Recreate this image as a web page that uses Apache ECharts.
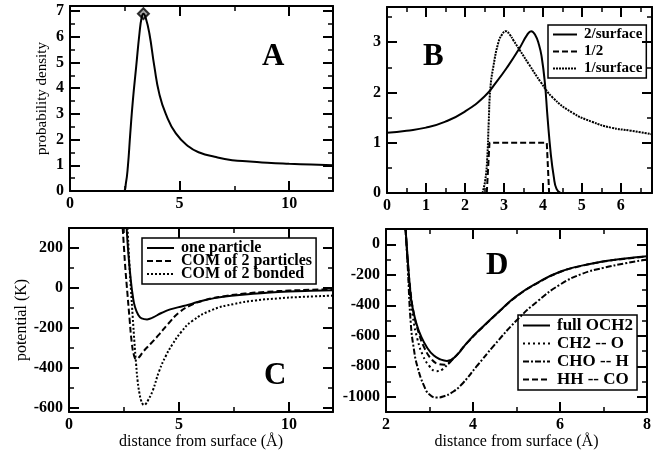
<!DOCTYPE html>
<html>
<head>
<meta charset="utf-8">
<script src="https://cdn.jsdelivr.net/npm/echarts@6/dist/echarts.min.js"></script>
<style>
  html, body { margin: 0; padding: 0; background: #fff; }
  #main { width: 664px; height: 459px; }
</style>
</head>
<body>
<div id="main"></div>
<script>
// panel A: probability density
const aX = [0, 2.45, 2.55, 2.64, 2.75, 2.87, 3.02, 3.17, 3.27, 3.35, 3.45, 3.62, 3.85, 4.07, 4.37, 4.83, 5.43, 5.9, 6.6, 7.4, 8.2, 9, 10, 11, 12]
const aY = [0, 0, 0.3, 0.95, 2.24, 3.54, 4.84, 6.14, 6.75, 6.9, 6.75, 6.14, 4.84, 3.8, 3.0, 2.24, 1.72, 1.5, 1.33, 1.2, 1.15, 1.1, 1.06, 1.03, 1.0]
const aPeak = [3.35, 6.9]

// panel B
const b2X = [0, 0.5, 1, 1.5, 2, 2.5, 2.8, 3.1, 3.4, 3.6, 3.7, 3.8, 3.9, 3.97, 4.05, 4.12, 4.2, 4.28, 4.35, 4.45]
const b2Y = [1.2, 1.24, 1.3, 1.42, 1.62, 1.92, 2.2, 2.52, 2.88, 3.15, 3.22, 3.15, 2.95, 2.7, 2.2, 1.5, 0.8, 0.32, 0.08, 0]
const b1X = [2.45, 2.52, 2.57, 2.61, 2.65, 2.73, 2.86, 2.95, 3.05, 3.15, 3.25, 3.4, 3.65, 3.95, 4.25, 4.75, 5.25, 5.75, 6.25, 6.8]
const b1Y = [0, 0.25, 0.66, 1.4, 2.06, 2.52, 3.0, 3.15, 3.22, 3.15, 3.03, 2.85, 2.55, 2.2, 1.9, 1.6, 1.42, 1.3, 1.24, 1.17]
const bBondX = [2.56, 2.63, 4.1, 4.16]
const bBondY = [0, 1, 1, 0]

// panel C: potential (K)
const cOneX = [2.62, 2.7, 2.8, 2.9, 3.0, 3.15, 3.3, 3.55, 3.8, 4.2, 4.6, 5.2, 5.6, 6.2, 7, 8, 9, 10, 11, 12]
const cOneY = [300, 170, 50, -40, -95, -135, -152, -157, -148, -125, -107, -90, -78, -60, -44, -32, -24, -18, -14, -11]
const cComX = [2.44, 2.5, 2.56, 2.65, 2.75, 2.85, 2.95, 3.05, 3.15, 3.4, 3.7, 4.1, 4.5, 5.0, 5.5, 6.2, 7, 8, 9, 10, 11, 12]
const cComY = [300, 200, 100, -20, -150, -270, -335, -355, -350, -315, -280, -232, -180, -123, -88, -60, -42, -28, -19, -13, -9, -6]
const cBondX = [2.66, 2.75, 2.82, 2.9, 2.97, 3.05, 3.12, 3.2, 3.27, 3.35, 3.42, 3.5, 3.6, 3.8, 4.1, 4.4, 4.7, 5.1, 5.6, 6.5, 7.5, 8.5, 9.5, 10.5, 12]
const cBondY = [300, 110, -15, -150, -265, -380, -465, -525, -560, -580, -585, -578, -560, -515, -415, -340, -282, -220, -165, -110, -80, -62, -52, -45, -38]

// panel D
const dFullX = [2.45, 2.5, 2.55, 2.6, 2.7, 2.8, 2.95, 3.1, 3.25, 3.4, 3.6, 3.87, 4.25, 4.64, 5.0, 5.5, 6.0, 6.5, 7.0, 7.5, 8.0]
const dFullY = [100, -100, -280, -400, -520, -600, -680, -730, -755, -765, -735, -643, -534, -430, -340, -250, -180, -140, -112, -93, -78]
const dCh2X = [2.45, 2.5, 2.55, 2.62, 2.72, 2.85, 3.0, 3.15, 3.3, 3.45, 3.6]
const dCh2Y = [100, -120, -320, -480, -620, -730, -800, -832, -820, -775, -735]
const dChoX = [2.45, 2.5, 2.57, 2.64, 2.72, 2.87, 3.0, 3.18, 3.35, 3.5, 3.72, 4.1, 4.48, 5.0, 5.5, 6.0, 6.5, 7.0, 7.5, 8.0]
const dChoY = [100, -150, -520, -686, -800, -926, -985, -1005, -995, -975, -925, -795, -665, -500, -370, -265, -195, -155, -125, -100]
const dHhX = [2.45, 2.5, 2.56, 2.63, 2.75, 2.9, 3.05, 3.2, 3.35, 3.5, 3.87, 4.25, 4.64, 5.0, 5.5, 6.0, 6.5, 7.0, 7.5, 8.0]
const dHhY = [100, -110, -300, -440, -580, -690, -755, -785, -790, -765, -645, -536, -432, -342, -252, -182, -142, -114, -95, -80]

const serif = 'Liberation Serif'
const zip = (xs, ys) => xs.map((x, i) => [x, ys[i]])

// ticks on all four sides: main axis + a bare mirror axis
const axisPair = (kind, grid, min, max, step, interval, name, nameGap, nameSize) => {
  const base = {
    type: 'value',
    gridIndex: grid,
    min: min,
    max: max,
    splitLine: { show: false },
    axisLine: { show: true, onZero: false, lineStyle: { color: '#000', width: 2 } },
    axisTick: { inside: true, length: 10, lineStyle: { color: '#000', width: 2 } },
    minorTick: { show: true, splitNumber: 2, length: 5, lineStyle: { color: '#000', width: 1.5 } }
  }
  if (interval) base.interval = interval
  else base.splitNumber = 5
  const main = Object.assign({}, base, {
    position: kind === 'x' ? 'bottom' : 'left',
    axisLabel: {
      margin: kind === 'x' ? 5 : 6,
      color: '#000',
      fontFamily: serif,
      fontWeight: 'bold',
      fontSize: 16,
      formatter: (v) => {
        const k = v / step
        return Math.abs(k - Math.round(k)) < 1e-6 ? String(Math.round(v)) : ''
      }
    }
  })
  if (name) {
    main.name = name
    main.nameLocation = 'middle'
    main.nameGap = nameGap
    main.nameTextStyle = { color: '#000', fontFamily: serif, fontSize: nameSize || 15 }
  }
  const mirror = Object.assign({}, base, {
    position: kind === 'x' ? 'top' : 'right',
    axisLabel: { show: false }
  })
  return [main, mirror]
}

const line = (name, data, xi, yi, type) => ({
  name: name,
  type: 'line',
  xAxisIndex: xi,
  yAxisIndex: yi,
  data: data,
  symbol: 'none',
  smooth: 0.5,
  silent: true,
  itemStyle: { color: '#000' },
  lineStyle: { color: '#000', width: 2, type: type || 'solid' }
})

const legendBox = (names, left, top, gap, size, iconW) => ({
  data: names,
  orient: 'vertical',
  left: left,
  top: top,
  itemWidth: iconW,
  itemHeight: 10,
  itemGap: gap,
  padding: [2, 4, 2, 4],
  borderColor: '#000',
  borderWidth: 1.5,
  selectedMode: false,
  itemStyle: { opacity: 0 },
  textStyle: { color: '#000', fontFamily: serif, fontWeight: 'bold', fontSize: size, padding: [0, 0, 0, 2] }
})

const letter = (txt, x, y) => ({
  type: 'text',
  left: x,
  top: y,
  style: { text: txt, fill: '#000', font: 'bold 31px "Liberation Serif"' }
})

const chart = echarts.init(document.getElementById('main'))

const option = {
  animation: false,
  backgroundColor: '#fff',
  grid: [
    { left: 70, top: 6, width: 263, height: 185 },
    { left: 387, top: 7, width: 265, height: 186 },
    { left: 69, top: 228, width: 264, height: 184 },
    { left: 386, top: 229, width: 261, height: 183 }
  ],
  xAxis: [
    ...axisPair('x', 0, 0, 12, 5, 5),
    ...axisPair('x', 1, 0, 6.8, 1, 1),
    ...axisPair('x', 2, 0, 12, 5, 5, 'distance from surface (Å)', 22, 16),
    ...axisPair('x', 3, 2, 8, 2, 2, 'distance from surface (Å)', 22, 16)
  ],
  yAxis: [
    ...axisPair('y', 0, 0, 7.2, 1, 1, 'probability density', 20, 15),
    ...axisPair('y', 1, 0, 3.7, 1, 1),
    ...axisPair('y', 2, -620, 300, 200, null, 'potential (K)', 37, 16),
    ...axisPair('y', 3, -1100, 100, 200, null)
  ],
  legend: [
    legendBox(['2/surface', '1/2', '1/surface'], 548, 25, 2, 15, 24),
    legendBox(['one particle', 'COM of 2 particles', 'COM of 2 bonded'], 142, 238, -3, 16, 27),
    legendBox(['full OCH2', 'CH2 -- O', 'CHO -- H', 'HH -- CO'], 518, 315, 1, 17, 27)
  ],
  graphic: [
    letter('A', 262, 41),
    letter('B', 423, 41),
    letter('C', 264, 360),
    letter('D', 486, 250)
  ],
  series: [
    line('A', zip(aX, aY), 0, 0),
    {
      name: 'peak',
      type: 'scatter',
      xAxisIndex: 0,
      yAxisIndex: 0,
      data: [aPeak],
      symbol: 'diamond',
      symbolSize: 11,
      silent: true,
      itemStyle: { color: '#888', borderColor: '#000', borderWidth: 2 }
    },
    line('2/surface', zip(b2X, b2Y), 2, 2, 'solid'),
    line('1/2', zip(bBondX, bBondY), 2, 2, [6, 3]),
    line('1/surface', zip(b1X, b1Y), 2, 2, [2, 1]),
    line('one particle', zip(cOneX, cOneY), 4, 4, 'solid'),
    line('COM of 2 particles', zip(cComX, cComY), 4, 4, [6, 3]),
    line('COM of 2 bonded', zip(cBondX, cBondY), 4, 4, [2, 2]),
    line('full OCH2', zip(dFullX, dFullY), 6, 6, 'solid'),
    line('CH2 -- O', zip(dCh2X, dCh2Y), 6, 6, [2, 3]),
    line('CHO -- H', zip(dChoX, dChoY), 6, 6, [6, 2, 2, 2]),
    line('HH -- CO', zip(dHhX, dHhY), 6, 6, [6, 3])
  ]
}
option.series[3].smooth = false

chart.setOption(option)
</script>
</body>
</html>
